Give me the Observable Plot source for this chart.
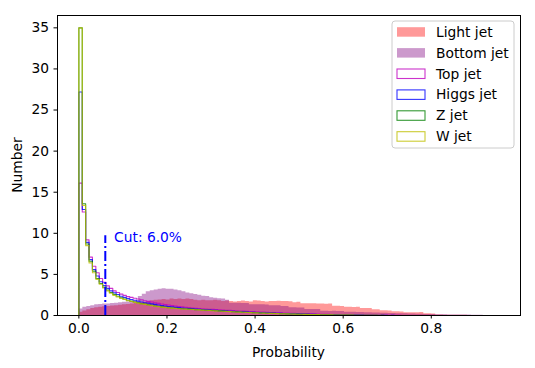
<!DOCTYPE html>
<html>
<head>
<meta charset="utf-8">
<script src="https://cdn.jsdelivr.net/npm/d3@7"></script>
<script src="https://cdn.jsdelivr.net/npm/@observablehq/plot@0.6"></script>
<style>
  html, body { margin: 0; padding: 0; background: #fff; }
  #chart { width: 535px; height: 368px; }
</style>
</head>
<body>
<div id="chart"></div>
<script>
// ---- data ----
const seriesNames = ["Light jet", "Bottom jet", "Top jet", "Higgs jet", "Z jet", "W jet"];
const xTicks = [0, 0.2, 0.4, 0.6, 0.8];
const yTicks = [0, 5, 10, 15, 20, 25, 30, 35];
const fillBinWidth = 0.009;
const stepBinWidth = 0.0077;
const cutValue = 0.06;
const cutLabel = "Cut: 6.0%";
const cutLineTop = 9.7;

const lightJet = [
  0.4, 0.55, 0.7, 0.85, 0.95, 1.0, 1.05, 1.1, 1.15, 1.2,
  1.25, 1.3, 1.35, 1.4, 1.45, 1.55, 1.6, 1.7, 1.8, 1.85,
  1.9, 1.95, 1.9, 2.0, 1.95, 2.0, 1.95, 2.0, 1.95, 1.85,
  1.8, 1.85, 1.8, 1.8, 1.85, 1.8, 1.7, 1.75, 1.7, 1.65,
  1.7, 1.75, 1.7, 1.65, 1.8, 1.75, 1.7, 1.65, 1.7, 1.7,
  1.72, 1.7, 1.7, 1.68, 1.55, 1.6, 1.42, 1.42, 1.43, 1.42,
  1.4, 1.4, 1.38, 1.4, 1.13, 1.12, 1.1, 1.0, 1.0, 0.98,
  1.0, 0.85, 0.85, 0.84, 0.69, 0.7, 0.58, 0.57, 0.56, 0.45,
  0.45, 0.44, 0.34, 0.33, 0.33, 0.32, 0.36, 0.2, 0.2, 0.19,
  0.05, 0.05, 0.04, 0.04, 0.03, 0.03, 0.02, 0.02, 0.01, 0.0
];
const bottomJet = [
  0.8, 1.0, 1.1, 1.2, 1.3, 1.35, 1.4, 1.4, 1.45, 1.5,
  1.55, 1.6, 1.65, 1.7, 1.75, 2.3, 2.6, 2.9, 3.0, 3.1,
  3.2, 3.25, 3.2, 3.2, 3.1, 3.0, 2.9, 2.75, 2.65, 2.55,
  2.45, 2.35, 2.3, 2.15, 2.1, 2.05, 2.0, 1.85, 1.5, 1.48,
  1.5, 1.45, 1.45, 1.3, 1.3, 1.32, 1.3, 1.28, 1.2, 1.2,
  1.18, 1.1, 1.1, 0.93, 0.93, 0.92, 0.9, 0.73, 0.73, 0.72,
  0.73, 0.52, 0.52, 0.5, 0.52, 0.5, 0.48, 0.4, 0.4, 0.4,
  0.38, 0.38, 0.33, 0.33, 0.3, 0.3, 0.28, 0.27, 0.25, 0.24,
  0.22, 0.2, 0.2, 0.18, 0.17, 0.15, 0.14, 0.13, 0.12, 0.11,
  0.1, 0.09, 0.08, 0.07, 0.07, 0.06, 0.05, 0.05, 0.05, 0.04,
  0.04, 0.03
];
const topJet = [
  16.1, 12.6, 9.2, 7.1, 6.0, 5.2, 4.5, 4.05, 3.6, 3.3,
  3.0, 2.8, 2.6, 2.45, 2.3, 2.2, 2.1, 2.0, 1.9, 1.8,
  1.72, 1.65, 1.55, 1.48, 1.4, 1.33, 1.27, 1.21, 1.15, 1.1,
  1.05, 1.0, 0.96, 0.92, 0.88, 0.85, 0.82, 0.79, 0.76, 0.74,
  0.71, 0.69, 0.66, 0.64, 0.62, 0.6, 0.57, 0.55, 0.53, 0.51,
  0.49, 0.47, 0.45, 0.43, 0.41, 0.39, 0.37, 0.36, 0.34, 0.32,
  0.31, 0.29, 0.28, 0.26, 0.25, 0.23, 0.22, 0.21, 0.2, 0.18,
  0.17, 0.16, 0.15, 0.14, 0.13, 0.12, 0.11, 0.1, 0.09, 0.08,
  0.08, 0.07, 0.06, 0.05, 0.05, 0.04, 0.04, 0.03, 0.03, 0.02,
  0.02, 0.02, 0.01, 0.01, 0.01
];
const higgsJet = [
  27.2, 12.9, 8.9, 6.8, 5.6, 4.8, 4.1, 3.65, 3.3, 3.0,
  2.75, 2.55, 2.35, 2.2, 2.05, 1.95, 1.85, 1.75, 1.65, 1.55,
  1.5, 1.42, 1.35, 1.28, 1.2, 1.15, 1.1, 1.05, 1.0, 0.96,
  0.92, 0.88, 0.85, 0.82, 0.79, 0.76, 0.73, 0.7, 0.67, 0.64,
  0.62, 0.59, 0.57, 0.54, 0.52, 0.5, 0.48, 0.46, 0.44, 0.42,
  0.4, 0.38, 0.36, 0.35, 0.33, 0.31, 0.3, 0.28, 0.27, 0.26,
  0.24, 0.23, 0.22, 0.2, 0.19, 0.18, 0.17, 0.16, 0.15, 0.14,
  0.13, 0.12, 0.11, 0.1, 0.1, 0.09, 0.08, 0.07, 0.07, 0.06,
  0.05, 0.05, 0.04, 0.04, 0.03, 0.03, 0.02, 0.02, 0.01, 0.01,
  0.01, 0.0, 0.01, 0.0, 0.0
];
const zJet = [
  35.0, 13.6, 8.7, 6.6, 5.4, 4.5, 3.9, 3.45, 3.1, 2.8,
  2.55, 2.35, 2.15, 2.0, 1.85, 1.75, 1.65, 1.55, 1.45, 1.4,
  1.3, 1.25, 1.15, 1.1, 1.05, 1.0, 0.95, 0.92, 0.88, 0.85,
  0.82, 0.8, 0.78, 0.75, 0.72, 0.7, 0.67, 0.64, 0.62, 0.6,
  0.58, 0.56, 0.53, 0.5, 0.48, 0.46, 0.44, 0.42, 0.4, 0.38,
  0.36, 0.35, 0.33, 0.31, 0.3, 0.28, 0.27, 0.26, 0.24, 0.23,
  0.22, 0.2, 0.19, 0.18, 0.17, 0.16, 0.15, 0.14, 0.13, 0.12,
  0.11, 0.1, 0.1, 0.09, 0.08, 0.07, 0.07, 0.06, 0.05, 0.05,
  0.04, 0.03, 0.03, 0.02, 0.02, 0.01, 0.01, 0.01, 0.0, 0.01,
  0.0, 0.0, 0.0, 0.0, 0.0
];
const wJet = [
  35.0, 13.4, 8.5, 6.4, 5.2, 4.4, 3.8, 3.35, 3.0, 2.7,
  2.45, 2.25, 2.1, 1.95, 1.8, 1.7, 1.6, 1.5, 1.42, 1.35,
  1.28, 1.2, 1.13, 1.08, 1.02, 0.98, 0.93, 0.9, 0.86, 0.83,
  0.8, 0.78, 0.76, 0.73, 0.7, 0.68, 0.65, 0.63, 0.6, 0.58,
  0.56, 0.54, 0.52, 0.49, 0.47, 0.45, 0.43, 0.41, 0.39, 0.37,
  0.35, 0.34, 0.32, 0.3, 0.29, 0.27, 0.26, 0.25, 0.23, 0.22,
  0.21, 0.2, 0.18, 0.17, 0.16, 0.15, 0.14, 0.13, 0.12, 0.11,
  0.11, 0.1, 0.09, 0.08, 0.08, 0.07, 0.06, 0.06, 0.05, 0.04,
  0.04, 0.03, 0.03, 0.02, 0.02, 0.01, 0.01, 0.01, 0.01, 0.0,
  0.0, 0.0, 0.0, 0.0, 0.0
];

// ---- helpers to build histogram shapes ----
function areaPoints(values, w) {
  const pts = values.map((v, i) => ({x: i * w, y: v}));
  pts.push({x: values.length * w, y: values[values.length - 1]});
  return pts;
}
function stepPoints(values, w) {
  const pts = [{x: 0, y: 0}];
  values.forEach((v, i) => pts.push({x: i * w, y: v}));
  pts.push({x: values.length * w, y: 0});
  return pts;
}

const FONT = "DejaVu Sans, sans-serif";
const FS = 13.8;

const fillColors = ["#ff0000", "#800080"];
const lineColors = ["#bf00bf", "#0000ff", "#008000", "#bfbf00"];
const stepSeries = [topJet, higgsJet, zJet, wJet];

const marks = [
  Plot.areaY(areaPoints(lightJet, fillBinWidth), {x: "x", y: "y", curve: "step-after", fill: fillColors[0], fillOpacity: 0.4}),
  Plot.areaY(areaPoints(bottomJet, fillBinWidth), {x: "x", y: "y", curve: "step-after", fill: fillColors[1], fillOpacity: 0.4}),
  ...stepSeries.map((s, k) => Plot.line(stepPoints(s, stepBinWidth), {x: "x", y: "y", curve: "step-after", stroke: lineColors[k], strokeOpacity: 0.8, strokeWidth: 1.1})),
  Plot.ruleX([cutValue], {y1: 0, y2: cutLineTop, stroke: "#0000ff", strokeWidth: 2, strokeDasharray: "10,3,2,3"}),
  Plot.text([cutLabel], {x: cutValue + 0.02, y: cutLineTop - 0.2, text: d => d, fill: "#0000ff", textAnchor: "start", fontSize: FS}),
  Plot.frame({stroke: "#000", strokeWidth: 1})
];

const plot = Plot.plot({
  width: 535,
  height: 368,
  marginLeft: 57,
  marginRight: 15,
  marginTop: 15,
  marginBottom: 53,
  style: {fontFamily: FONT, fontSize: FS + "px", color: "#000", background: "#fff", overflow: "visible"},
  x: {domain: [-0.0485, 1.0025], ticks: xTicks, tickFormat: d3.format(".1f"), tickSize: 3.5, tickPadding: 4, label: null},
  y: {domain: [0, 36.5], ticks: yTicks, tickSize: 3.5, tickPadding: 5, label: null},
  marks
});

document.getElementById("chart").appendChild(plot);

// ---- axis titles and legend ----
const svg = d3.select(plot);
svg.append("text").attr("x", 288.5).attr("y", 352).attr("text-anchor", "middle").attr("dominant-baseline", "central")
  .attr("font-family", FONT).attr("font-size", FS).attr("fill", "#000").text("Probability");
svg.append("text").attr("transform", "translate(17,165) rotate(-90)").attr("text-anchor", "middle").attr("dominant-baseline", "central")
  .attr("font-family", FONT).attr("font-size", FS).attr("fill", "#000").text("Number");

const lg = svg.append("g");
lg.append("rect").attr("x", 392).attr("y", 21).attr("width", 122).attr("height", 127).attr("rx", 3)
  .attr("fill", "#fff").attr("fill-opacity", 0.8).attr("stroke", "#cccccc").attr("stroke-width", 1);
const legendColors = [fillColors[0], fillColors[1], ...lineColors];
seriesNames.forEach((name, k) => {
  const cy = 31.7 + k * 20.9;
  const r = lg.append("rect").attr("x", 397).attr("y", cy - 4.5).attr("width", 28).attr("height", 9.5);
  if (k < 2) r.attr("fill", legendColors[k]).attr("fill-opacity", 0.4).attr("stroke", "none");
  else r.attr("fill", "none").attr("stroke", legendColors[k]).attr("stroke-opacity", 0.8).attr("stroke-width", 1.1);
  lg.append("text").attr("x", 436).attr("y", cy).attr("text-anchor", "start").attr("dominant-baseline", "central")
    .attr("font-family", FONT).attr("font-size", FS).attr("fill", "#000").text(name);
});
</script>
</body>
</html>
